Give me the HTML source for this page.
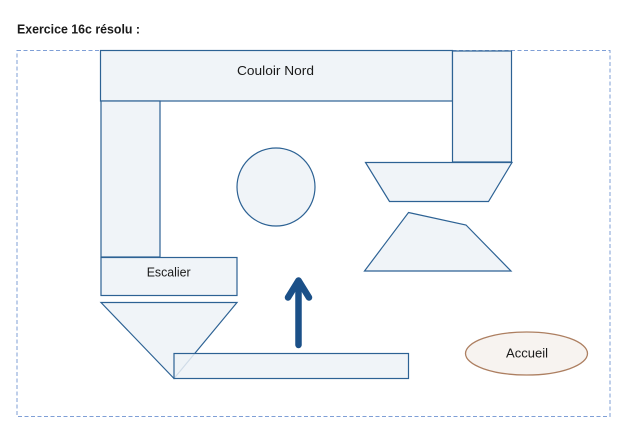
<!DOCTYPE html>
<html>
<head>
<meta charset="utf-8">
<style>
html,body{margin:0;padding:0;background:#fff;}
svg{display:block;}
text{font-family:"Liberation Sans",sans-serif;fill:#1a1a1a;}
</style>
</head>
<body>
<svg width="630" height="442" viewBox="0 0 630 442" xmlns="http://www.w3.org/2000/svg">
  <text x="17" y="33.5" font-size="13" font-weight="bold" fill="#262626" textLength="123" lengthAdjust="spacingAndGlyphs">Exercice 16c résolu :</text>

  <!-- dashed frame -->
  <rect x="17" y="50.5" width="593" height="366" fill="none" stroke="#7f9fd6" stroke-width="1" stroke-dasharray="4,2.5"/>

  <g stroke="#2d6294" stroke-width="1.2" fill="#f0f4f8">
    <!-- Couloir Nord -->
    <rect x="100.5" y="50.5" width="352" height="50.5"/>
    <!-- right vertical -->
    <rect x="452.5" y="51" width="59" height="111"/>
    <!-- left vertical -->
    <rect x="101" y="101" width="59" height="156"/>
    <!-- Escalier -->
    <rect x="101" y="257.5" width="136" height="38"/>
    <!-- triangle -->
    <polygon points="101,302.5 237,302.5 174,378.5"/>
    <!-- bottom rect (semi-transparent) -->
    <rect x="174" y="353.5" width="234.5" height="25" fill="#edf2f7" fill-opacity="0.85"/>
    <!-- circle -->
    <circle cx="276" cy="187" r="39"/>
    <!-- trapezoid -->
    <polygon points="365.5,162.5 512,162.5 488.5,201.5 389.5,201.5"/>
    <!-- lower polygon -->
    <polygon points="408.5,212.5 466,225 511,271 364.5,271"/>
  </g>

  <!-- arrow -->
  <g stroke="#1b5088" stroke-width="6.5" fill="none" stroke-linecap="round" stroke-linejoin="round">
    <line x1="298.5" y1="345" x2="298.5" y2="283"/>
    <polyline points="288,297.5 298.5,280.5 309,297.5"/>
  </g>

  <!-- Accueil -->
  <ellipse cx="526.5" cy="353.5" rx="61" ry="21.5" fill="#f7f3f0" stroke="#ad7f61" stroke-width="1.3"/>

  <text x="275.5" y="75" font-size="12.5" text-anchor="middle" textLength="77" lengthAdjust="spacingAndGlyphs">Couloir  Nord</text>
  <text x="168.7" y="276.5" font-size="12.5" text-anchor="middle" textLength="44" lengthAdjust="spacingAndGlyphs">Escalier</text>
  <text x="527" y="357.5" font-size="12.5" text-anchor="middle" textLength="42" lengthAdjust="spacingAndGlyphs">Accueil</text>
</svg>
</body>
</html>
